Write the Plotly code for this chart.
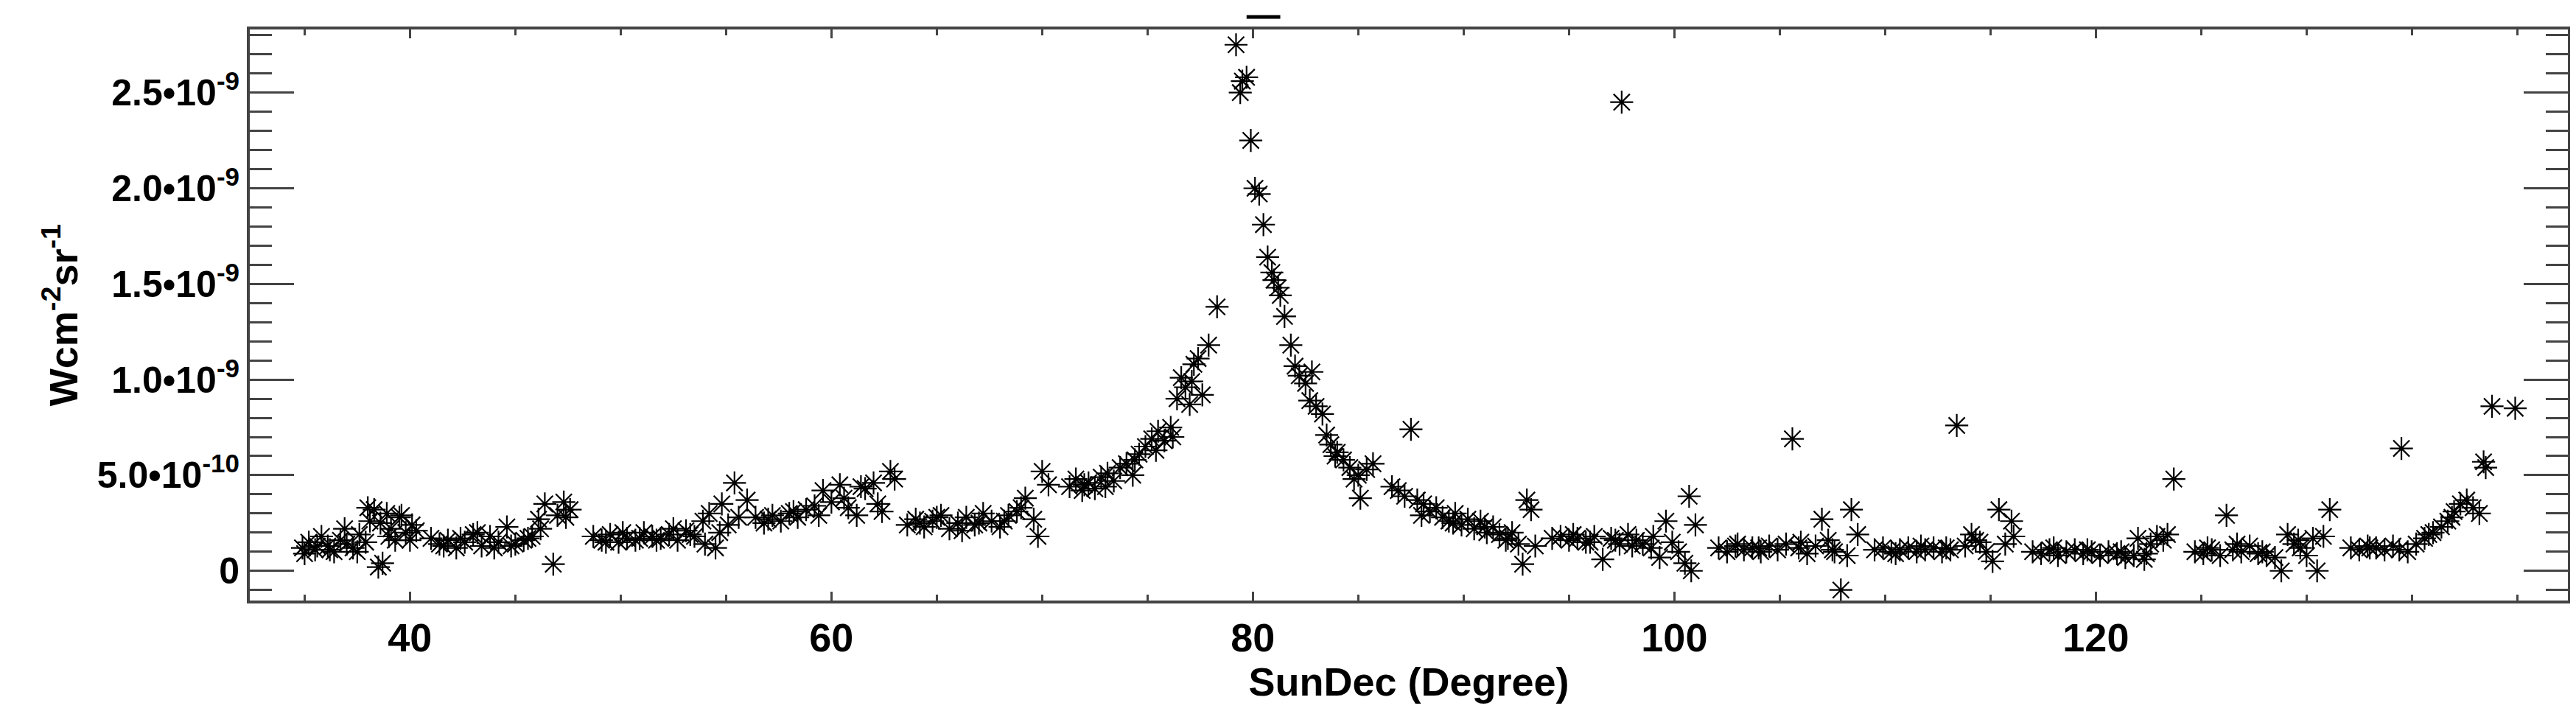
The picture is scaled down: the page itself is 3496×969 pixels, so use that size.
import plotly.graph_objects as go

# SunDec (degree) vs radiance in units of 1e-10 W cm^-2 sr^-1
X_A = [34.9, 35.2, 35.5, 35.8, 36.1, 36.4, 36.7, 37.0, 37.3, 37.6, 37.9, 38.1, 38.3, 38.5, 38.7, 38.9, 39.1, 39.3, 39.5, 39.8, 40.1, 40.3,
       35.0, 35.6, 36.2, 36.9, 37.5, 38.0, 38.6, 39.0, 39.6, 40.0]
Y_A = [1.2, 1.5, 1.1, 1.8, 1.3, 1.0, 1.6, 1.4, 1.2, 1.9, 1.5, 2.6, 3.2, 0.2, 0.4, 3.0, 2.2, 1.6, 2.8, 2.0, 2.4, 2.1,
       0.9, 1.3, 1.1, 2.2, 1.0, 3.3, 2.5, 1.8, 2.9, 1.6]
X_B = [41.0, 41.4, 41.8, 42.2, 42.6, 43.0, 43.4, 43.8, 44.2, 44.6, 45.0, 45.4, 45.8, 46.1, 46.4, 46.8, 47.0, 47.3, 47.6,
       41.6, 42.4, 43.2, 44.0, 44.8, 45.6, 46.2, 47.4]
Y_B = [1.7, 1.4, 1.6, 1.2, 1.5, 1.9, 1.3, 1.8, 1.5, 2.3, 1.4, 1.6, 1.8, 2.7, 3.5, 0.35, 2.9, 3.6, 3.2,
       1.3, 1.7, 2.0, 1.2, 1.3, 1.7, 2.2, 2.8]
X_C = [48.7, 49.1, 49.5, 49.9, 50.3, 50.7, 51.1, 51.5, 51.9, 52.3, 52.7, 53.1, 53.5, 53.9, 54.2, 54.5, 54.8, 55.1, 55.4, 55.6,
       49.3, 50.1, 50.9, 51.7, 52.5, 53.3, 54.0, 54.7]
Y_C = [1.8, 1.6, 1.9, 1.5, 1.7, 1.6, 2.0, 1.8, 1.7, 1.9, 1.6, 2.1, 1.8, 2.6, 3.0, 1.2, 3.5, 2.4, 4.6, 2.8,
       1.5, 2.0, 1.7, 1.6, 2.2, 1.9, 1.4, 2.0]
X_D = [56.0, 56.4, 56.8, 57.2, 57.6, 58.0, 58.4, 58.8, 59.2, 59.6, 60.0, 60.4, 60.8, 61.2, 61.6, 62.0, 62.4, 62.8,
       57.0, 58.2, 59.4, 60.6, 61.4, 62.2, 63.0]
Y_D = [3.7, 2.8, 2.5, 2.9, 2.6, 3.0, 2.8, 3.2, 3.4, 4.2, 3.6, 4.5, 3.3, 2.9, 4.3, 4.6, 3.1, 5.2,
       2.7, 3.1, 2.9, 3.8, 4.4, 3.5, 4.8]
X_E = [63.6, 64.0, 64.4, 64.8, 65.2, 65.6, 66.0, 66.4, 66.8, 67.2, 67.6, 68.0, 68.4, 68.8, 69.2, 69.6, 69.8, 70.0, 70.3,
       64.2, 65.0, 66.2, 67.0, 68.2, 69.0]
Y_E = [2.4, 2.7, 2.3, 2.6, 2.9, 2.2, 2.5, 2.8, 2.4, 3.0, 2.6, 2.3, 2.9, 3.1, 3.8, 2.7, 1.8, 5.2, 4.5,
       2.5, 2.8, 2.1, 2.5, 2.6, 3.3]
X_F = [71.3, 71.6, 71.9, 72.2, 72.5, 72.8, 73.1, 73.4, 73.7, 74.0, 74.3, 74.6, 74.9, 75.2, 75.5, 75.8, 76.1, 76.4, 76.6, 76.8,
       77.0, 77.2, 77.4, 77.6, 77.9, 78.3, 72.0, 73.0, 74.4, 75.4, 76.2, 77.1]
Y_F = [4.4, 4.8, 4.2, 4.6, 4.3, 4.9, 5.1, 4.7, 5.4, 5.6, 5.0, 6.1, 6.5, 6.9, 7.3, 6.8, 7.5, 9.0, 10.1, 9.6,
       8.7, 10.8, 11.1, 9.2, 11.8, 13.8, 4.5, 4.4, 5.8, 6.3, 7.0, 9.9]
X_G = [79.2, 79.4, 79.5, 79.7, 79.9, 80.1, 80.3, 80.5, 80.7, 80.9, 81.0, 81.2, 81.3, 81.5, 81.8, 82.0, 82.2, 82.5, 82.8, 82.7,
       83.0, 83.3, 83.5, 83.7, 84.0, 84.3, 84.6, 85.0, 85.1, 85.4, 85.7, 83.9, 84.8]
Y_G = [27.5, 25.0, 25.6, 25.8, 22.5, 20.0, 19.7, 18.1, 16.4, 15.6, 15.2, 14.8, 14.4, 13.3, 11.8, 10.7, 10.2, 9.8, 10.4, 8.9,
       8.6, 8.2, 7.1, 6.6, 6.2, 5.8, 5.4, 5.0, 3.8, 5.3, 5.6, 6.0, 4.8]
X_H = [86.6, 86.9, 87.2, 87.5, 87.8, 88.1, 88.4, 88.7, 89.0, 89.3, 89.6, 89.9, 90.2, 90.5, 90.8, 91.1, 91.4, 91.7, 92.0, 92.3,
       92.6, 92.8, 93.0, 93.2, 93.4, 88.0, 89.5, 91.0, 92.1]
Y_H = [4.4, 4.2, 3.9, 7.4, 3.7, 3.5, 3.1, 3.3, 2.8, 2.6, 3.0, 2.4, 2.7, 2.2, 2.6, 2.0, 2.3, 1.9, 1.6, 2.0,
       1.4, 0.35, 3.7, 3.2, 1.3, 2.9, 2.5, 2.3, 1.7]
X_I = [94.2, 94.6, 95.0, 95.4, 95.8, 96.2, 96.6, 97.0, 97.4, 97.5, 97.8, 98.2, 98.5, 98.9, 99.3, 99.6, 99.9, 100.2, 100.5, 100.7,
       100.8, 101.0, 95.2, 96.0, 97.2, 98.0, 99.0]
Y_I = [1.7, 1.8, 1.6, 1.7, 1.5, 1.8, 0.6, 1.7, 1.4, 24.5, 1.9, 1.6, 1.4, 1.2, 0.7, 2.6, 1.5, 1.0, 0.4, 3.9,
       0.0, 2.4, 1.9, 1.5, 1.6, 1.3, 1.8]
X_J = [102.1, 102.5, 102.9, 103.3, 103.7, 104.1, 104.5, 104.9, 105.3, 105.6, 105.9, 106.3, 106.7, 107.0, 107.3, 107.6, 107.9,
       108.2, 108.4, 108.7, 103.0, 104.0, 106.0, 107.5]
Y_J = [1.2, 1.0, 1.3, 1.1, 1.2, 1.0, 1.3, 1.1, 1.4, 6.9, 1.2, 0.9, 1.3, 2.7, 1.6, 1.0, -1.0,
       0.8, 3.2, 1.9, 1.4, 1.2, 1.5, 1.1]
X_K = [109.5, 109.9, 110.3, 110.7, 111.1, 111.5, 111.9, 112.3, 112.7, 113.1, 113.4, 113.8, 114.1, 114.5, 114.8, 115.1, 115.4,
       115.7, 116.0, 116.1, 110.5, 111.7, 112.9, 114.3]
Y_K = [1.1, 1.2, 1.0, 1.1, 1.2, 1.0, 1.1, 1.2, 1.0, 1.1, 7.6, 1.3, 1.9, 1.5, 1.0, 0.5, 3.2,
       1.4, 2.6, 1.8, 0.9, 1.3, 1.2, 1.6]
X_L = [117.0, 117.4, 117.8, 118.2, 118.6, 119.0, 119.4, 119.8, 120.2, 120.6, 121.0, 121.4, 121.8, 122.0, 122.3, 122.6, 122.9,
       123.2, 123.4, 123.7, 118.0, 119.6, 121.2, 122.4]
Y_L = [1.0, 0.9, 1.1, 0.8, 1.0, 1.1, 0.9, 1.0, 0.8, 1.0, 0.9, 0.7, 0.8, 1.7, 0.6, 1.4, 1.8,
       1.6, 1.9, 4.8, 1.2, 1.1, 1.0, 0.9]
X_M = [124.7, 125.1, 125.5, 125.9, 126.2, 126.5, 126.9, 127.3, 127.7, 128.1, 128.5, 128.8, 129.1, 129.4, 129.7, 130.0, 130.3,
       130.5, 130.8, 131.1, 125.3, 126.7, 127.9, 129.6]
Y_M = [1.0, 0.9, 1.1, 0.8, 2.9, 1.1, 1.0, 1.3, 0.9, 0.8, 0.7, 0.0, 1.9, 1.4, 1.2, 0.8, 1.7,
       0.0, 1.8, 3.2, 1.2, 1.4, 1.0, 1.6]
X_N = [132.1, 132.5, 132.9, 133.3, 133.7, 134.1, 134.5, 134.8, 135.2, 135.6, 136.0, 136.4, 136.7, 137.0, 137.3, 137.6, 137.9,
       138.2, 138.4, 138.5, 138.8, 139.9, 133.0, 134.4, 135.8, 136.9]
Y_N = [1.2, 1.1, 1.3, 1.2, 1.1, 1.3, 6.4, 1.0, 1.4, 1.7, 2.0, 2.3, 2.6, 3.1, 3.5, 3.7, 3.3,
       3.0, 5.7, 5.4, 8.6, 8.5, 1.2, 1.1, 1.9, 2.8]

sundec = X_A + X_B + X_C + X_D + X_E + X_F + X_G + X_H + X_I + X_J + X_K + X_L + X_M + X_N
radiance = Y_A + Y_B + Y_C + Y_D + Y_E + Y_F + Y_G + Y_H + Y_I + Y_J + Y_K + Y_L + Y_M + Y_N

Y_TICKS = [0, 5, 10, 15, 20, 25]
Y_TICKTEXT = ['0', '5.0•10<sup>-10</sup>', '1.0•10<sup>-9</sup>', '1.5•10<sup>-9</sup>',
              '2.0•10<sup>-9</sup>', '2.5•10<sup>-9</sup>']
X_TICKS = [40, 60, 80, 100, 120]

FONT = 'Liberation Sans, Arial, sans-serif'

fig = go.Figure()
fig.add_trace(go.Scatter(
    x=sundec, y=radiance, mode='markers',
    marker=dict(symbol='asterisk-open', size=26, color='black', line=dict(color='black', width=2.2)),
    showlegend=False,
))

# small dash above the frame near the peak
fig.add_shape(type='line', xref='x', yref='paper', x0=79.7, x1=81.3, y0=1.022, y1=1.022,
              line=dict(color='black', width=5))

fig.update_layout(
    width=3496, height=969,
    paper_bgcolor='white', plot_bgcolor='white',
    margin=dict(l=331, r=19, t=32, b=162),
    font=dict(family=FONT, color='black', size=52),
    xaxis=dict(
        range=[32.4, 142.4], tickvals=X_TICKS, ticktext=['<b>%d</b>' % v for v in X_TICKS],
        ticks='inside', ticklen=12, tickwidth=3,
        minor=dict(dtick=5, ticks='inside', ticklen=8, tickwidth=3, tick0=0),
        showgrid=False, zeroline=False, showline=True, linecolor='#444', linewidth=4, mirror='ticks',
        tickfont=dict(size=54, family=FONT),
        title=dict(text='<b>SunDec (Degree)</b>', font=dict(size=54), standoff=4),
    ),
    yaxis=dict(
        range=[-1.55, 28.3], tickvals=Y_TICKS, ticktext=['<b>%s</b>' % t for t in Y_TICKTEXT],
        ticks='inside', ticklen=60, tickwidth=3,
        minor=dict(dtick=1, ticks='inside', ticklen=30, tickwidth=3, tick0=0),
        showgrid=False, zeroline=False, showline=True, linecolor='#444', linewidth=4, mirror='ticks',
        tickfont=dict(size=50, family=FONT),
        title=dict(text='<b>Wcm<sup>-2</sup>sr<sup>-1</sup></b>', font=dict(size=54), standoff=10),
    ),
)

fig.write_html('out.html')
